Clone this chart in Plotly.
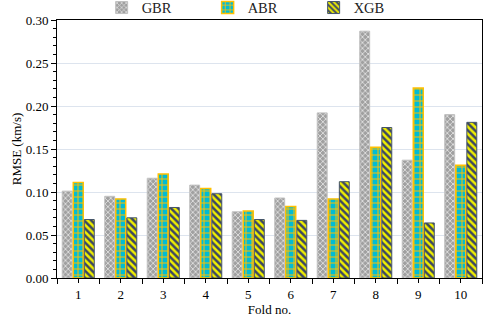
import plotly.graph_objects as go

folds = [1, 2, 3, 4, 5, 6, 7, 8, 9, 10]
fold_labels = ["1", "2", "3", "4", "5", "6", "7", "8", "9", "10"]
gbr = [0.101, 0.095, 0.116, 0.108, 0.077, 0.093, 0.192, 0.287, 0.137, 0.190]
abr = [0.111, 0.092, 0.121, 0.104, 0.078, 0.083, 0.092, 0.152, 0.221, 0.131]
xgb = [0.068, 0.070, 0.082, 0.098, 0.068, 0.067, 0.112, 0.175, 0.064, 0.181]

font = "Liberation Serif"

fig = go.Figure()
fig.add_trace(go.Bar(
    x=folds, y=gbr, name="GBR",
    marker=dict(color="#a0a0a0", line=dict(color="#c0c0c0", width=1),
                pattern=dict(shape="x", bgcolor="#a0a0a0", fgcolor="#e0e0e0",
                             size=4, solidity=0.4, fillmode="replace")),
))
fig.add_trace(go.Bar(
    x=folds, y=abr, name="ABR",
    marker=dict(color="#00bcd4", line=dict(color="#ffc000", width=1.5),
                pattern=dict(shape="+", bgcolor="#00bcd4", fgcolor="#ffc000",
                             size=6, solidity=0.3, fillmode="replace")),
))
fig.add_trace(go.Bar(
    x=folds, y=xgb, name="XGB",
    marker=dict(color="#3c4664", line=dict(color="#44546a", width=1),
                pattern=dict(shape="\\", bgcolor="#3c4664", fgcolor="#f0f000",
                             size=5, solidity=0.5, fillmode="replace")),
))

fig.update_layout(
    width=484, height=317,
    margin=dict(l=57, r=2, t=20, b=39, autoexpand=False),
    paper_bgcolor="white", plot_bgcolor="white",
    barmode="group", bargap=0.22, bargroupgap=0.1,
    font=dict(family=font, size=13, color="black"),
    legend=dict(orientation="h", x=0.21, xanchor="left", y=0.976, yanchor="middle",
                xref="container", yref="container",
                entrywidth=61, entrywidthmode="pixels",
                font=dict(family=font, size=14.5, color="#222"),
                itemwidth=30, bgcolor="rgba(0,0,0,0)", borderwidth=0,
                tracegroupgap=0),
    showlegend=True,
)

fig.update_xaxes(
    range=[0.5, 10.5], tickmode="array", tickvals=folds, ticktext=fold_labels,
    ticks="outside", ticklen=4, tickcolor="black",
    minor=dict(tickmode="array", tickvals=[0.5 + k for k in range(11)],
               ticks="outside", ticklen=5, tickcolor="black", showgrid=False),
    showline=True, linecolor="black", linewidth=1, mirror=True,
    showgrid=False, zeroline=False,
    title=dict(text="Fold no.", font=dict(family=font, size=13), standoff=8),
    tickfont=dict(family=font, size=13),
)
fig.update_yaxes(
    range=[0, 0.30], tickmode="linear", tick0=0, dtick=0.05, tickformat=".2f",
    ticks="outside", ticklen=5, tickcolor="black",
    minor=dict(dtick=0.01, ticks="outside", ticklen=3, tickcolor="black", showgrid=False),
    showline=True, linecolor="black", linewidth=1, mirror=True,
    showgrid=True, gridcolor="#dde4ee", gridwidth=1, zeroline=False,
    title=dict(text="RMSE (km/s)", font=dict(family=font, size=13), standoff=1),
    tickfont=dict(family=font, size=13),
)

fig.write_html("out.html", config={"displayModeBar": False},
               post_script="document.body.style.margin='0';")
